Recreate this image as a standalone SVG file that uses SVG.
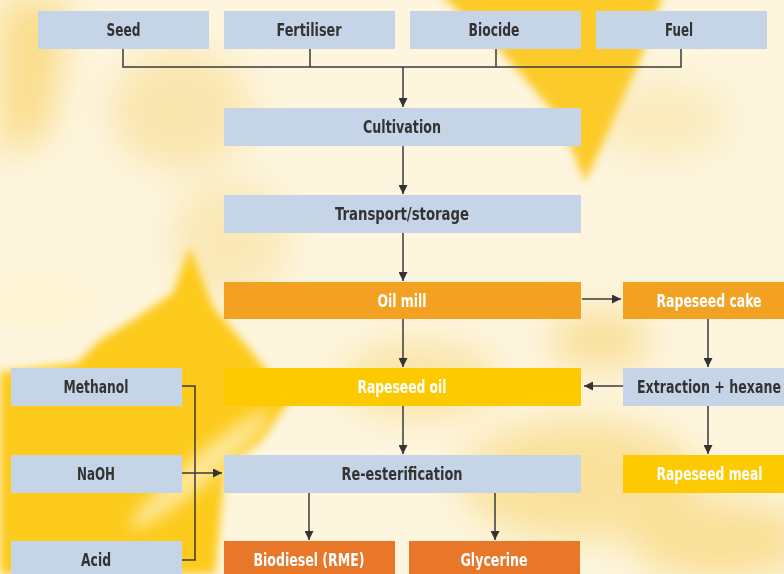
<svg xmlns="http://www.w3.org/2000/svg" width="784" height="574" viewBox="0 0 784 574">
<defs>
<filter id="blur" x="-30%" y="-30%" width="160%" height="160%"><feGaussianBlur stdDeviation="18"/></filter>
<filter id="soft" x="-20%" y="-20%" width="140%" height="140%"><feGaussianBlur stdDeviation="4"/></filter>
<filter id="blur2" x="-30%" y="-30%" width="160%" height="160%"><feGaussianBlur stdDeviation="8"/></filter>
<marker id="ah" viewBox="0 0 10 10" refX="10" refY="5" markerWidth="9" markerHeight="9" markerUnits="userSpaceOnUse" orient="auto">
<path d="M0,0 L10,5 L0,10 z" fill="#333"/>
</marker>
<style>
.blue{fill:#c5d4e6}
.orange{fill:#f2a122}
.yellow{fill:#fdc900}
.dark{fill:#e8772a}
text{font-family:"DejaVu Sans Condensed","Liberation Sans",sans-serif;font-weight:bold;font-size:18px;text-anchor:middle}
.tb{fill:#333}
.tw{fill:#fff}
.c{fill:none;stroke:#3a3a3a;stroke-width:1.5}
</style>
</defs>
<g id="background">
<rect width="784" height="574" fill="#fdf5de"/>
<g filter="url(#blur)" opacity="0.85">
<polygon points="0,0 70,0 50,130 0,160" fill="#f9d87a"/>
<ellipse cx="180" cy="110" rx="70" ry="60" fill="#f9e3a6"/>
<ellipse cx="660" cy="120" rx="70" ry="40" fill="#faeab8"/>
<ellipse cx="420" cy="380" rx="80" ry="40" fill="#f9e3a0"/>
<ellipse cx="580" cy="480" rx="120" ry="60" fill="#f9de90"/>
<ellipse cx="720" cy="540" rx="90" ry="40" fill="#f9dc8a"/>
<ellipse cx="600" cy="340" rx="50" ry="30" fill="#f8dc8e"/>
<ellipse cx="230" cy="240" rx="60" ry="60" fill="#fae6b0"/>
</g>
<g filter="url(#soft)">
<polygon points="435,-10 665,-10 640,60 600,150 585,182 560,120 500,50" fill="#fccb2a"/>
<polygon points="0,372 77,363 100,340 133,320 173,293 190,247 213,307 253,353 290,400 262,440 225,470 215,574 0,574" fill="#fdcb1e"/>
</g>
<g filter="url(#blur2)" opacity="0.75">
<ellipse cx="200" cy="470" rx="90" ry="14" fill="#fef0c0" transform="rotate(-40 200 470)"/>
<ellipse cx="40" cy="300" rx="60" ry="30" fill="#fff4d0"/>
</g>
</g>
<g id="connectors">
<polyline class="c" points="123,49 123,67 681,67 681,49"/>
<line class="c" x1="310" y1="49" x2="310" y2="67"/>
<line class="c" x1="496" y1="49" x2="496" y2="67"/>
<line class="c" x1="403" y1="67" x2="403" y2="107" marker-end="url(#ah)"/>
<line class="c" x1="403" y1="146" x2="403" y2="194" marker-end="url(#ah)"/>
<line class="c" x1="403" y1="233" x2="403" y2="281" marker-end="url(#ah)"/>
<line class="c" x1="403" y1="319" x2="403" y2="367" marker-end="url(#ah)"/>
<line class="c" x1="403" y1="406" x2="403" y2="454" marker-end="url(#ah)"/>
<line class="c" x1="582" y1="299" x2="621" y2="299" marker-end="url(#ah)"/>
<line class="c" x1="708" y1="319" x2="708" y2="367" marker-end="url(#ah)"/>
<line class="c" x1="623" y1="386" x2="584" y2="386" marker-end="url(#ah)"/>
<line class="c" x1="708" y1="406" x2="708" y2="454" marker-end="url(#ah)"/>
<polyline class="c" points="182,386 195,386 195,560 182,560"/>
<line class="c" x1="182" y1="473" x2="222" y2="473" marker-end="url(#ah)"/>
<line class="c" x1="309" y1="493" x2="309" y2="540" marker-end="url(#ah)"/>
<line class="c" x1="495" y1="493" x2="495" y2="540" marker-end="url(#ah)"/>
</g>
<g id="seed"><rect class="blue" x="38" y="11" width="171" height="38"/><text class="tb" x="123.5" y="36" textLength="34" lengthAdjust="spacingAndGlyphs">Seed</text></g>
<g id="fertiliser"><rect class="blue" x="224" y="11" width="171" height="38"/><text class="tb" x="309" y="36" textLength="65" lengthAdjust="spacingAndGlyphs">Fertiliser</text></g>
<g id="biocide"><rect class="blue" x="410" y="11" width="171" height="38"/><text class="tb" x="494" y="36" textLength="51" lengthAdjust="spacingAndGlyphs">Biocide</text></g>
<g id="fuel"><rect class="blue" x="596" y="11" width="171" height="38"/><text class="tb" x="679" y="36" textLength="28" lengthAdjust="spacingAndGlyphs">Fuel</text></g>
<g id="cultivation"><rect class="blue" x="224" y="108" width="357" height="38"/><text class="tb" x="402" y="133" textLength="78" lengthAdjust="spacingAndGlyphs">Cultivation</text></g>
<g id="transport"><rect class="blue" x="224" y="195" width="357" height="38"/><text class="tb" x="402" y="220" textLength="134" lengthAdjust="spacingAndGlyphs">Transport/storage</text></g>
<g id="oilmill"><rect class="orange" x="224" y="282" width="357" height="37"/><text class="tw" x="402" y="306.5" textLength="49" lengthAdjust="spacingAndGlyphs">Oil mill</text></g>
<g id="rapeseedcake"><rect class="orange" x="623" y="282" width="161" height="37"/><text class="tw" x="709" y="306.5" textLength="105" lengthAdjust="spacingAndGlyphs">Rapeseed cake</text></g>
<g id="rapeseedoil"><rect class="yellow" x="224" y="368" width="357" height="38"/><text class="tw" x="402" y="393" textLength="89" lengthAdjust="spacingAndGlyphs">Rapeseed oil</text></g>
<g id="extraction"><rect class="blue" x="623" y="368" width="161" height="38"/><text class="tb" x="709" y="393" textLength="144" lengthAdjust="spacingAndGlyphs">Extraction + hexane</text></g>
<g id="methanol"><rect class="blue" x="11" y="368" width="171" height="38"/><text class="tb" x="96" y="393" textLength="65" lengthAdjust="spacingAndGlyphs">Methanol</text></g>
<g id="naoh"><rect class="blue" x="11" y="455" width="171" height="38"/><text class="tb" x="96" y="480" textLength="38" lengthAdjust="spacingAndGlyphs">NaOH</text></g>
<g id="reesterification"><rect class="blue" x="224" y="455" width="357" height="38"/><text class="tb" x="402" y="480" textLength="121" lengthAdjust="spacingAndGlyphs">Re-esterification</text></g>
<g id="rapeseedmeal"><rect class="yellow" x="623" y="455" width="161" height="38"/><text class="tw" x="709.5" y="480" textLength="106" lengthAdjust="spacingAndGlyphs">Rapeseed meal</text></g>
<g id="acid"><rect class="blue" x="11" y="541" width="171" height="38"/><text class="tb" x="96" y="566" textLength="30" lengthAdjust="spacingAndGlyphs">Acid</text></g>
<g id="biodiesel"><rect class="dark" x="224" y="541" width="171" height="38"/><text class="tw" x="309" y="566" textLength="111" lengthAdjust="spacingAndGlyphs">Biodiesel (RME)</text></g>
<g id="glycerine"><rect class="dark" x="409" y="541" width="171" height="38"/><text class="tw" x="494" y="566" textLength="67" lengthAdjust="spacingAndGlyphs">Glycerine</text></g>
</svg>
